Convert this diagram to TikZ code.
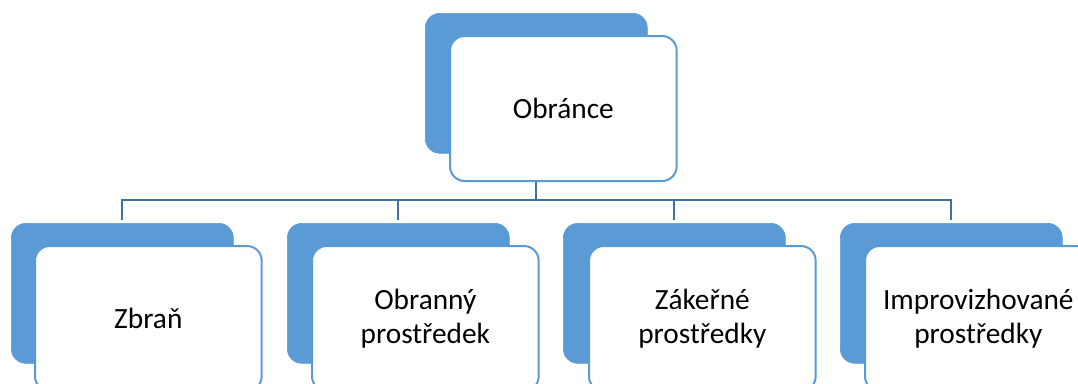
\documentclass[tikz,border=0pt]{standalone}
\usepackage{fontspec}
\setmainfont{Carlito}
\definecolor{accent}{HTML}{5B9BD5}
\definecolor{linkblue}{HTML}{41719C}
\begin{document}
\begin{tikzpicture}[x=0.75pt,y=-0.75pt,
  backcard/.style={fill=accent, draw=accent, line width=0.5pt,
    rounded corners=11pt, minimum width=166.5pt, minimum height=105pt,
    inner sep=0pt, anchor=north west},
  frontcard/.style={fill=white, draw=accent, line width=1.5pt,
    rounded corners=11pt, minimum width=170pt, minimum height=108.75pt,
    inner sep=0pt, anchor=north west, align=center,
    font=\fontsize{22}{25.5}\selectfont},
  link/.style={draw=linkblue, line width=1.6pt}]
\useasboundingbox (0,0) rectangle (1078,383);
\clip (0,0) rectangle (1078,383);

% top card
\node[backcard] (topback) at (425,13) {};
\node[frontcard] (top) at (449,35) {Obránce};

% second row cards
\node[backcard] (b1back) at (11,223) {};
\node[frontcard] (b1) at (34,245) {Zbraň};
\node[backcard] (b2back) at (287,223) {};
\node[frontcard] (b2) at (311,245) {Obranný\\prostředek};
\node[backcard] (b3back) at (563,223) {};
\node[frontcard] (b3) at (588,245) {Zákeřné\\prostředky};
\node[backcard] (b4back) at (840,223) {};
\node[frontcard] (b4) at (864,245) {Improvizhované\\prostředky};

% tree connectors
\coordinate (hub) at (topback.center |- 0,200);
\draw[link] (top.south -| topback.center) -- (hub);
\foreach \n in {b1back,b2back,b3back,b4back}
  \draw[link, shorten >=2.5pt] (hub) -| (\n.north);
\end{tikzpicture}
\end{document}
